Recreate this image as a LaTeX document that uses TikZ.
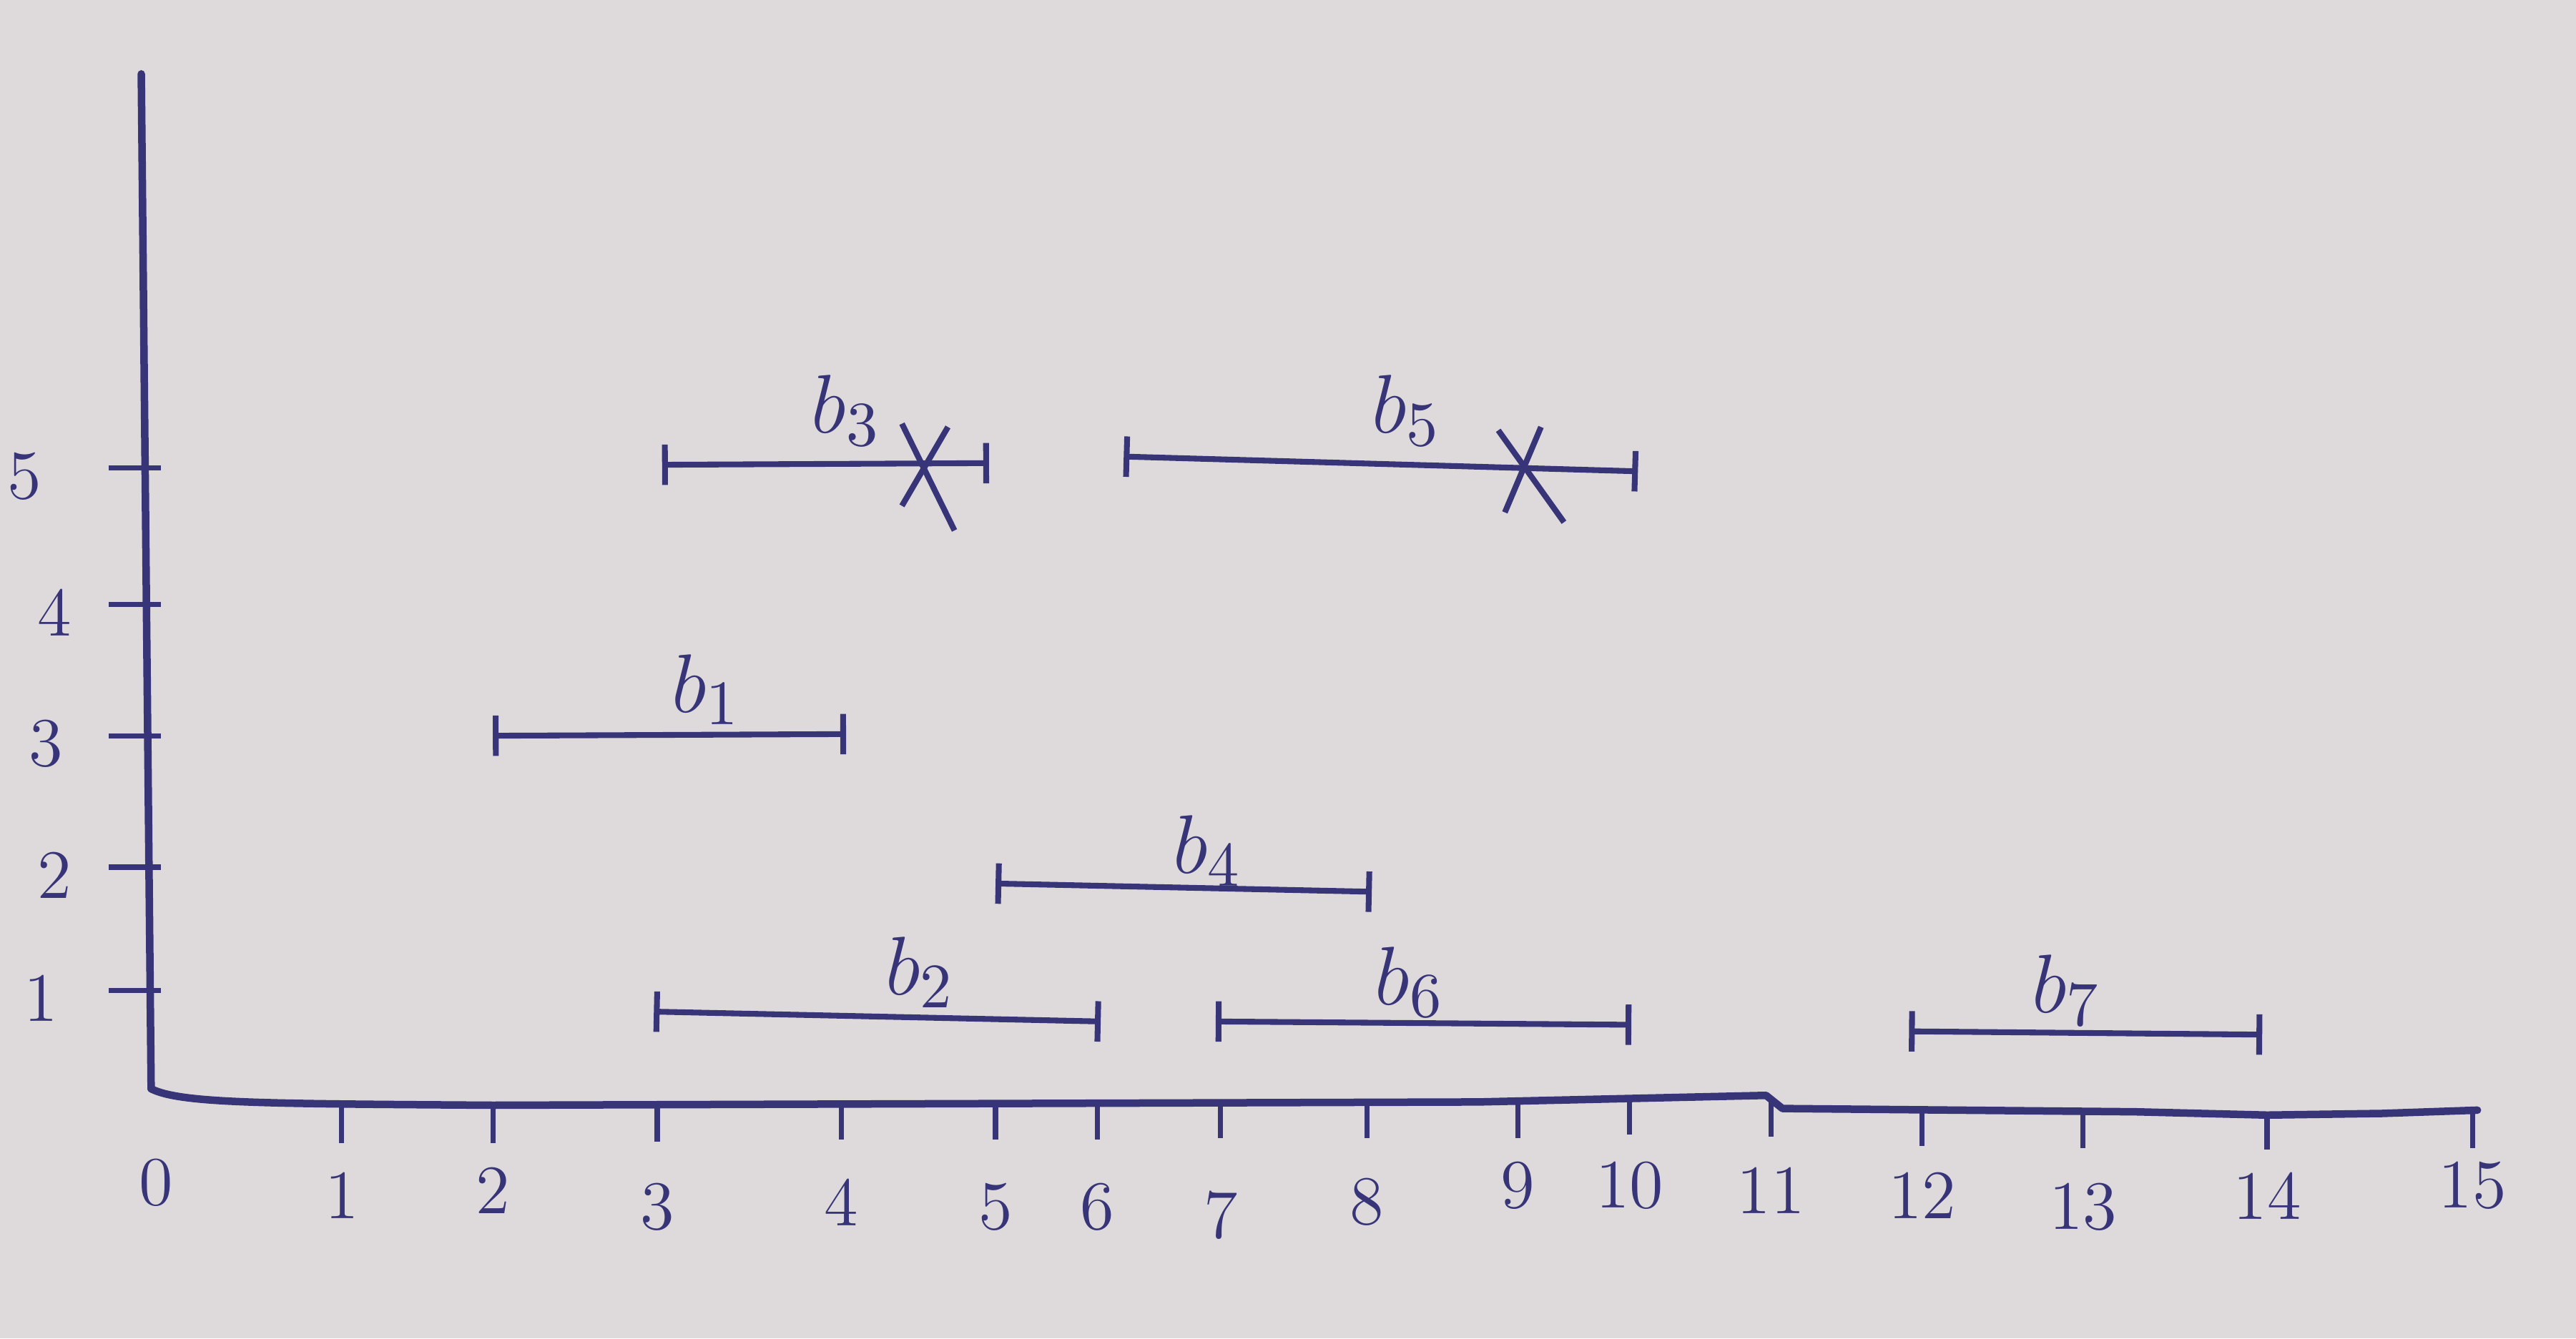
\documentclass[tikz,border=0pt]{standalone}
\usetikzlibrary{arrows.meta,calc}
\definecolor{paper}{RGB}{222,218,220}
\definecolor{ink}{RGB}{55,52,120}
\begin{document}
\begin{tikzpicture}[x=0.01cm,y=-0.01cm,
  axisline/.style={ink,line width=1.3pt,line cap=round,line join=round},
  tickline/.style={ink,line width=0.9pt},
  interval/.style={ink,line width=1pt,{Bar[width=7pt,line width=1pt]}-{Bar[width=7pt,line width=1pt]}},
  cross/.style={ink,line width=1pt},
  numlbl/.style={ink,font=\fontsize{12}{14}\selectfont,inner sep=0pt},
  blbl/.style={ink,font=\fontsize{15}{17}\selectfont,inner sep=0pt}]
\fill[paper] (0,0) rectangle (1568,815);
\useasboundingbox (0,0) rectangle (1568,815);
% axes
\coordinate (ytop) at (86,45);
\coordinate (orig) at (92,663);
\coordinate (xend) at (1508,676);
\draw[axisline] (ytop) -- (orig);
\draw[axisline] (orig) .. controls (110,672) and (160,672) .. (300,673)
  -- (600,672) -- (900,671) -- (1075,667) -- (1085,675) -- (1300,677) -- (1380,679) -- (1450,678) -- (xend);
% x ticks and labels
\foreach \n/\px/\ty/\ly in {1/208/674/728, 2/300/674/725, 3/400/673/735, 4/512/672/732, 5/606/672/735, 6/668/672/735, 7/743/671/740, 8/832/671/732, 9/924/671/722, 10/992/669/722, 11/1078/670/725, 12/1170/676/728, 13/1268/677/735, 14/1380/678/728, 15/1505/677/722}{
  \coordinate (xt\n) at (\px,\ty);
  \coordinate (xb\n) at (\px,\ty+22);
  \draw[tickline] (xt\n) -- (xb\n);
  \node[numlbl] (xl\n) at (\px,\ly) {\n};
}
\node[numlbl] (xl0) at (95,720) {0};
% y ticks and labels
\foreach \n/\py/\lx in {1/603/25, 2/528/33, 3/448/28, 4/368/33, 5/285/15}{
  \coordinate (yl\n) at (66,\py);
  \coordinate (yr\n) at (98,\py);
  \draw[tickline] (yl\n) -- (yr\n);
  \node[numlbl] (ylab\n) at (\lx,\py+5) {\n};
}
% intervals
\coordinate (b3s) at (403,283); \coordinate (b3e) at (602,282);
\draw[interval] (b3s) -- (b3e);
\node[blbl] (lb3) at (515,250) {$b_3$};
\coordinate (b3x) at (567,288);
\draw[cross] ($(b3x)+(-18,-30)$) -- ($(b3x)+(14,35)$);
\draw[cross] ($(b3x)+(-18,20)$) -- ($(b3x)+(10,-28)$);

\coordinate (b5s) at (684,278); \coordinate (b5e) at (997,287);
\draw[interval] (b5s) -- (b5e);
\node[blbl] (lb5) at (856,250) {$b_5$};
\coordinate (b5x) at (932,290);
\draw[cross] ($(b5x)+(-20,-28)$) -- ($(b5x)+(20,28)$);
\draw[cross] ($(b5x)+(-16,22)$) -- ($(b5x)+(6,-30)$);

\coordinate (b1s) at (300,448); \coordinate (b1e) at (515,447);
\draw[interval] (b1s) -- (b1e);
\node[blbl] (lb1) at (430,420) {$b_1$};

\coordinate (b4s) at (606,538); \coordinate (b4e) at (835,543);
\draw[interval] (b4s) -- (b4e);
\node[blbl] (lb4) at (735,518) {$b_4$};

\coordinate (b2s) at (398,616); \coordinate (b2e) at (670,622);
\draw[interval] (b2s) -- (b2e);
\node[blbl] (lb2) at (560,592) {$b_2$};

\coordinate (b6s) at (740,622); \coordinate (b6e) at (993,624);
\draw[interval] (b6s) -- (b6e);
\node[blbl] (lb6) at (858,598) {$b_6$};

\coordinate (b7s) at (1162,628); \coordinate (b7e) at (1377,630);
\draw[interval] (b7s) -- (b7e);
\node[blbl] (lb7) at (1258,603) {$b_7$};
\end{tikzpicture}
\end{document}
